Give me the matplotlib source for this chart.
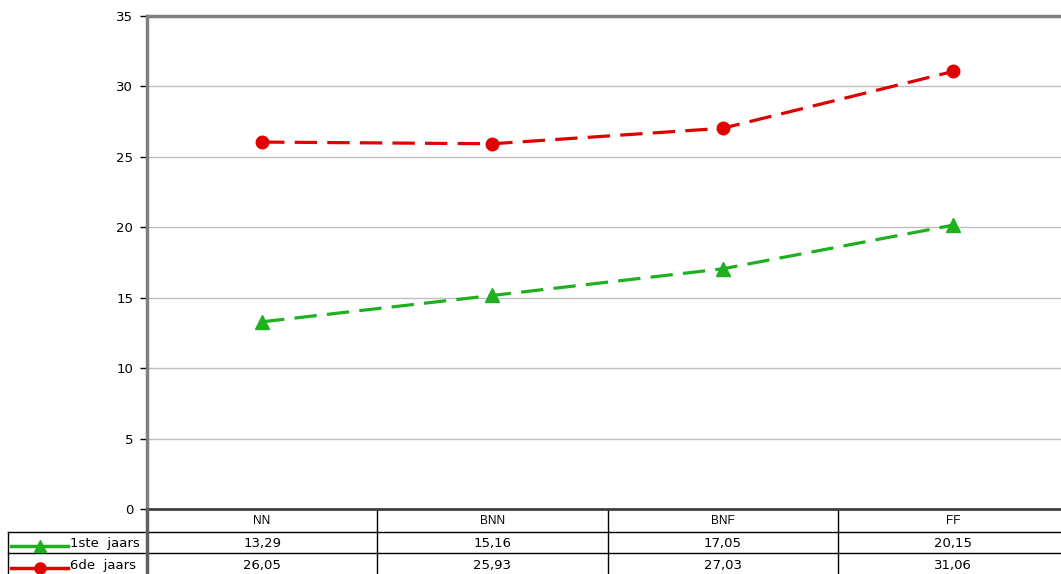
import matplotlib
matplotlib.use("Agg")
import matplotlib.pyplot as plt
from matplotlib.lines import Line2D
import matplotlib.transforms as mtransforms

# Data
categories = ["NN", "BNN", "BNF", "FF"]
series_names = ["1ste  jaars", "6de  jaars"]
eerste_jaars = [13.29, 15.16, 17.05, 20.15]
zesde_jaars = [26.05, 25.93, 27.03, 31.06]
yticks = [0, 5, 10, 15, 20, 25, 30, 35]

W, H = 1061, 574
plt.rcParams['font.family'] = ['DejaVu Sans']

fig = plt.figure(figsize=(W / 100, H / 100), dpi=100)

# axes in pixel coordinates
left, right, top, bottom = 147, 1068, 16, 509
ax = fig.add_axes([left / W, 1 - bottom / H, (right - left) / W, (bottom - top) / H])

x = list(range(len(categories)))
green = "#1fb01f"
red = "#e00000"

ax.plot(x, eerste_jaars, color=green, lw=2.3, dashes=(7, 3.2), marker="^",
        markersize=10, markerfacecolor=green, markeredgecolor=green, zorder=3)
ax.plot(x, zesde_jaars, color=red, lw=2.3, dashes=(7, 3.2), marker="o",
        markersize=9, markerfacecolor=red, markeredgecolor=red, zorder=3)

ax.set_xlim(-0.5, len(categories) - 0.5)
ax.set_ylim(0, 35)
ax.set_yticks(yticks)
ax.set_yticklabels([str(t) for t in yticks], fontsize=9.5)
ax.set_xticks([])
ax.tick_params(axis="y", direction="out", length=5, width=1, color="black", pad=5)
ax.yaxis.grid(True, color="#c0c0c0", lw=1)
ax.set_axisbelow(True)

for s in ["left", "top"]:
    ax.spines[s].set_color("#808080")
    ax.spines[s].set_linewidth(2.5)
ax.spines["bottom"].set_color("#404040")
ax.spines["bottom"].set_linewidth(2)
ax.spines["right"].set_visible(False)

# data table below the axes (drawn by hand, Excel style)
row_h = 22 / (bottom - top)
trans = mtransforms.blended_transform_factory(ax.transData, ax.transAxes)
xf = mtransforms.blended_transform_factory(ax.transData, fig.transFigure)
ftrans = fig.transFigure

def fy(py):
    return 1 - py / H

# horizontal table lines
for py in [532, 553]:
    fig.add_artist(Line2D([8 / W, 1], [fy(py), fy(py)], color="black", lw=1, transform=ftrans))
# vertical lines
fig.add_artist(Line2D([left / W, left / W], [fy(bottom), 0], color="#606060", lw=2.5, transform=ftrans))
fig.add_artist(Line2D([8 / W, 8 / W], [fy(532), 0], color="black", lw=1, transform=ftrans))
for i in range(1, len(categories)):
    ax.add_artist(Line2D([i - 0.5, i - 0.5], [0, -3.2 * row_h], color="black", lw=1,
                         transform=trans, clip_on=False))

# header row
for i, c in enumerate(categories):
    ax.text(i, fy(521), c, transform=xf, ha="center", va="center", fontsize=8.5,
            family="Liberation Sans")

# value rows
def fmt(v):
    return f"{v:.2f}".replace(".", ",")

for vals, py in [(eerste_jaars, 544), (zesde_jaars, 566)]:
    for i, v in enumerate(vals):
        ax.text(i, fy(py), fmt(v), transform=xf, ha="center", va="center", fontsize=9.5)

# row labels with legend keys
for name, col, mk, ms, py in [(series_names[0], green, "^", 9, 544),
                               (series_names[1], red, "o", 8, 566)]:
    fig.add_artist(Line2D([11 / W, 68 / W], [fy(py + 2), fy(py + 2)], color=col, lw=2.5,
                          transform=ftrans))
    fig.add_artist(Line2D([40 / W], [fy(py + 2)], color=col, marker=mk, markersize=ms,
                          markerfacecolor=col, markeredgecolor=col, transform=ftrans))
    fig.text(70 / W, fy(py), name, ha="left", va="center", fontsize=9.5)

fig.savefig("out.png", dpi=100)
